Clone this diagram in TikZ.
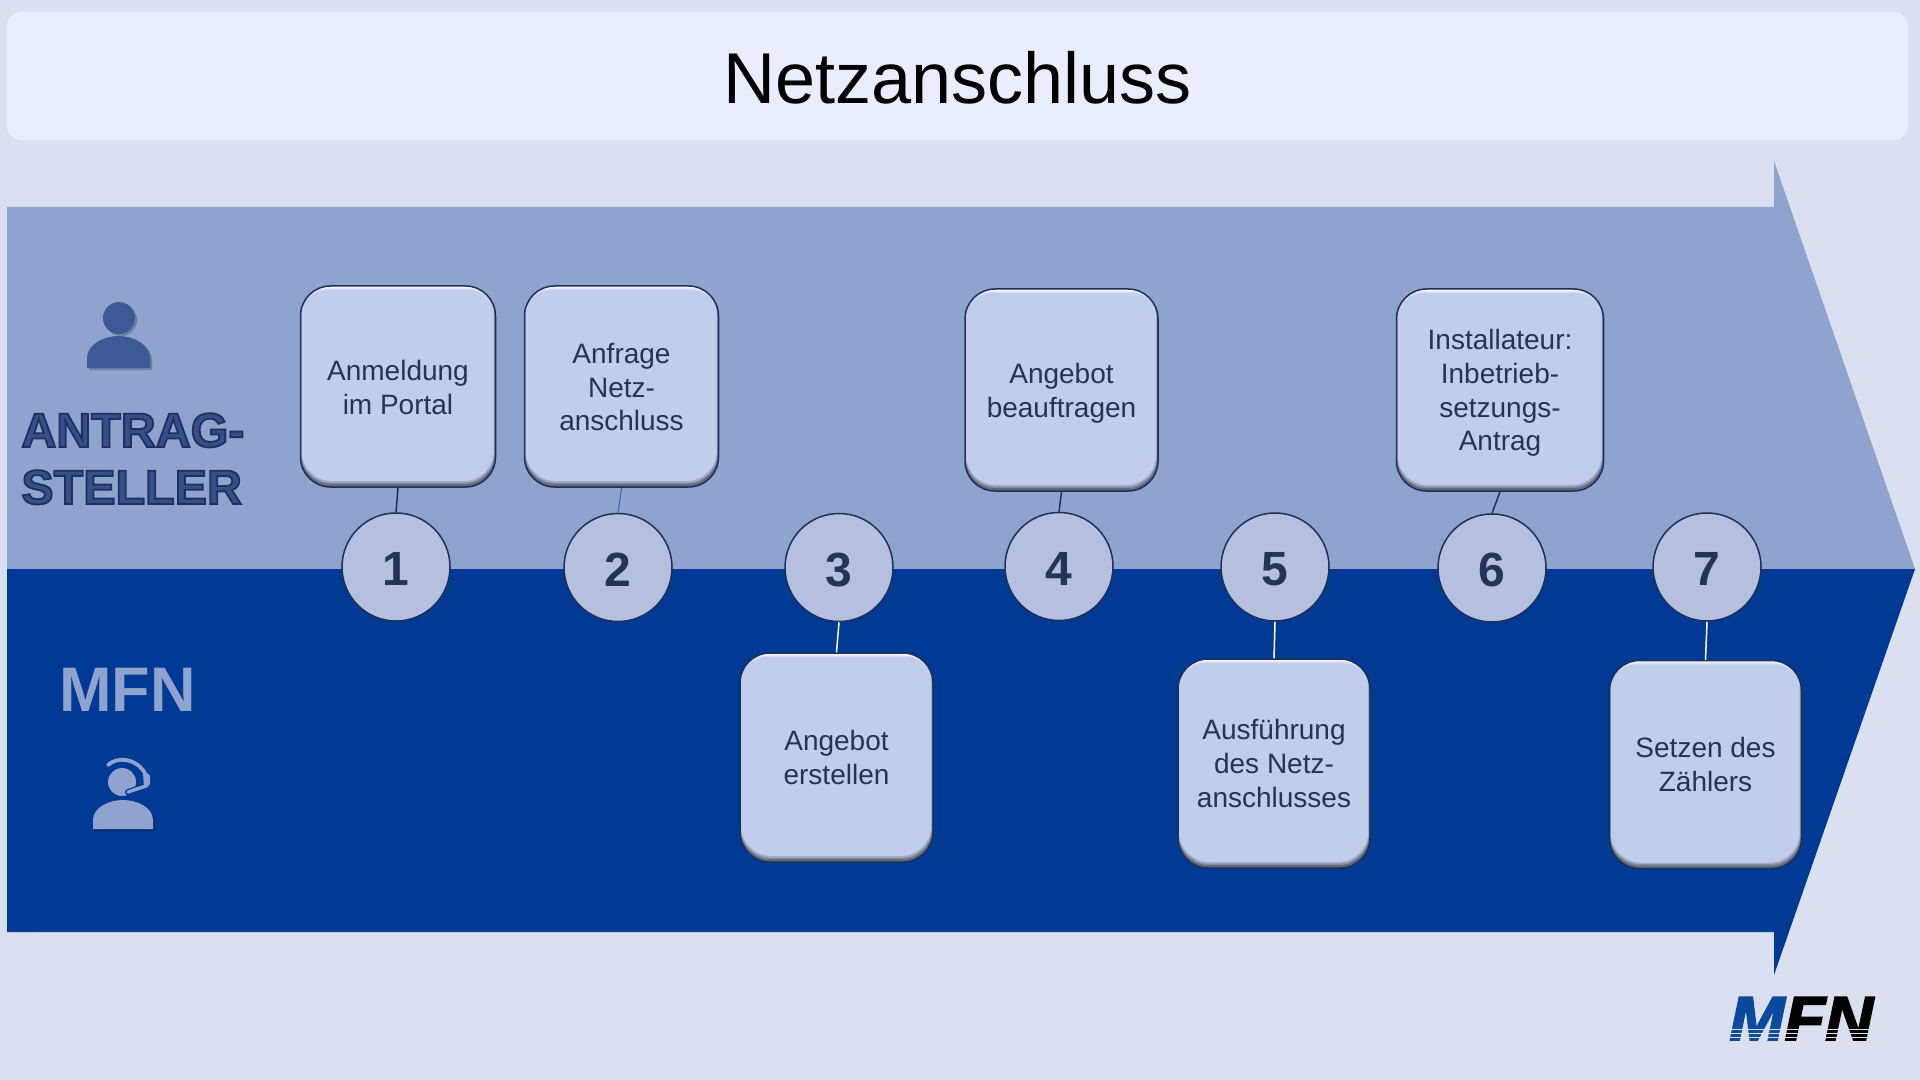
\documentclass[tikz,border=0pt]{standalone}
\usepackage{fontspec}
\usetikzlibrary{calc}
\setmainfont{Liberation Sans}
\newfontfamily\logofont[FakeStretch=1.07,BoldItalicFeatures={FakeBold=3}]{Liberation Sans}
\definecolor{bgcol}{HTML}{DAE0F0}
\definecolor{titlecol}{HTML}{E8EEFD}
\definecolor{bandup}{HTML}{8FA3CF}
\definecolor{banddown}{HTML}{003A94}
\definecolor{boxfill}{HTML}{C0CEEC}
\definecolor{circfill}{HTML}{B5C0DE}
\definecolor{edgecol}{HTML}{1F3058}
\definecolor{textcol}{HTML}{243358}
\definecolor{iconup}{HTML}{3C5A96}
\definecolor{labelup}{HTML}{34508C}
\definecolor{logoblue}{HTML}{0B4A9E}
\definecolor{lineup}{HTML}{4A68B0}
\definecolor{rimdark}{HTML}{2F3440}
\newcommand{\bevelrim}[6]{%
 \fill[#5,opacity=#6,even odd rule,rounded corners=0pt]
  ($(path picture bounding box.south west)+(-6pt,-6pt)$) rectangle ($(path picture bounding box.north east)+(6pt,6pt)$)
  [rounded corners=15pt]
  ($(path picture bounding box.south west)+(#1,#4)$) rectangle ($(path picture bounding box.north east)+(-#2,-#3)$);}
\newcommand{\outlined}[1]{\special{pdf:code 2 Tr 0.9 w 0.12 0.19 0.37 RG}#1\special{pdf:code 0 Tr}}
\newcommand{\firstline}[1]{\rule{0pt}{#1}}
\tikzset{
  x=0.5pt,y=-0.5pt,
  stepbox/.style={rounded corners=15pt,fill=boxfill,draw=edgecol,line width=.75pt,inner sep=0pt,
    align=center,text=textcol,font=\fontsize{14}{16.8}\selectfont,
    path picture={
      \bevelrim{.5pt}{.9pt}{-1pt}{3pt}{rimdark}{.2}
      \bevelrim{.3pt}{.6pt}{-1pt}{2.2pt}{rimdark}{.28}
      \bevelrim{.2pt}{.4pt}{-1pt}{1.4pt}{rimdark}{.38}
      \bevelrim{-1pt}{-1pt}{2pt}{-1pt}{white}{.3}
      \bevelrim{-1pt}{-1pt}{1.4pt}{-1pt}{white}{.45}
      \bevelrim{-1pt}{-1pt}{.9pt}{-1pt}{white}{.55}
    }},
  numcirc/.style={circle,fill=circfill,draw=edgecol,line width=.75pt,minimum size=54pt,inner sep=0pt,
    text=textcol,text height=18.5pt,text depth=0pt,font=\fontsize{24}{24}\selectfont\bfseries},
  darklink/.style={draw=edgecol,line width=.75pt},
  lightlink/.style={draw=white,line width=.75pt},
  faintlink/.style={draw=lineup,line width=.6pt},
  rolelabel/.style={inner sep=0pt,anchor=base west,font=\fontsize{24.2}{28.5}\selectfont\bfseries},
  iconshade/.style={fill=black,opacity=.22},
  iconsolid/.style={fill=iconup},
  headshade/.style={fill=black,opacity=.22},
  headsolid/.style={fill=bandup},
}
\begin{document}
\begin{tikzpicture}
\useasboundingbox (0,0) rectangle (1920,1080);
\fill[bgcol] (0,0) rectangle (1920,1080);
% title
\node[rounded corners=7pt,fill=titlecol,minimum width=950.5pt,minimum height=64pt,inner sep=0pt,
  text height=28pt,text depth=0pt,font=\fontsize{36}{36}\selectfont,text=black] (title) at (957.5,76) {Netzanschluss};
% arrow
\fill[bandup] (7,207) -- (1774,207) -- (1774,161) -- (1915,569) -- (7,569) -- cycle;
\fill[banddown] (7,569) -- (1915,569) -- (1774,975) -- (1774,932) -- (7,932) -- cycle;
% person icon
\foreach \dx/\sty in {2/iconshade,0/iconsolid}{
  \fill[\sty,shift={(\dx,\dx)}] (119,318) circle[radius=8pt];
  \fill[\sty,shift={(\dx,\dx)}] (87,368) -- (87,358) .. controls (87,345) and (103,336) .. (118.5,336) .. controls (134,336) and (150,345) .. (150,358) -- (150,368) -- cycle;
}
% role labels
\node[rolelabel,text=labelup,align=left] (antrag) at (21,504) {\outlined{ANTRAG-}\\\outlined{STELLER}};
\node[rolelabel,text=bandup,font=\fontsize{31.5}{31.5}\selectfont\bfseries] (mfnrole) at (59,711) {MFN};
% headset icon
\foreach \dx/\sty in {2/headshade,0/headsolid}{
  \fill[\sty,shift={(\dx,\dx)}] (93,829) -- (93,820) .. controls (93,808) and (108,800) .. (123,800) .. controls (138,800) and (153,808) .. (153,820) -- (153,829) -- cycle;
}
\fill[bandup] (122,782) circle[radius=7pt];
\draw[banddown,line width=3pt,line cap=round] (146,786) -- (128,792);
\draw[bandup,line width=1.9pt,line cap=round] (108,765) .. controls (116,757) and (135,757) .. (145,773);
\fill[bandup,rounded corners=1pt] (143,772) -- (150,774) -- (150,786) -- (144,788) -- cycle;
\draw[bandup,line width=1.7pt,line cap=round] (146,786) -- (128,792);
% steps
\node[numcirc] (c1) at (396,567) {1};
\node[numcirc] (c2) at (618,567.5) {2};
\node[numcirc] (c3) at (839,567.5) {3};
\node[numcirc] (c4) at (1059,566.5) {4};
\node[numcirc] (c5) at (1275,567) {5};
\node[numcirc] (c6) at (1492,568) {6};
\node[numcirc] (c7) at (1707,567) {7};
\node[stepbox,minimum width=97.5pt,minimum height=100.5pt] (b1) at (398,386.5) {\firstline{11.2pt}Anmeldung\\im Portal};
\node[stepbox,minimum width=97pt,minimum height=100.5pt] (b2) at (621.5,386.5) {\firstline{11pt}Anfrage\\Netz-\\anschluss};
\node[stepbox,minimum width=96.5pt,minimum height=104.5pt] (b3) at (836.5,757.5) {\firstline{10.2pt}Angebot\\erstellen};
\node[stepbox,minimum width=96.5pt,minimum height=101pt] (b4) at (1061.5,390) {\firstline{13.3pt}Angebot\\beauftragen};
\node[stepbox,minimum width=96pt,minimum height=104.5pt] (b5) at (1274,763.5) {Ausführung\\des Netz-\\anschlusses};
\node[stepbox,minimum width=103.5pt,minimum height=101pt] (b6) at (1500,390) {\firstline{13.3pt}Installateur:\\Inbetrieb-\\setzungs-\\Antrag};
\node[stepbox,minimum width=96pt,minimum height=104pt] (b7) at (1705.5,764.5) {Setzen des\\Zählers};
\draw[darklink] (b1.south) -- (c1.north);
\draw[faintlink] (b2.south) -- (c2.north);
\draw[lightlink] (c3.south) -- (b3.north);
\draw[darklink] (b4.south) -- (c4.north);
\draw[lightlink] (c5.south) -- (b5.north);
\draw[darklink] (b6.south) -- (c6.north);
\draw[lightlink] (c7.south) -- (b7.north);
% logo
\node[inner sep=0pt,anchor=base west,font=\fontsize{31}{31}\logofont\bfseries\itshape] (logo) at (1729,1040)
  {\textcolor{logoblue}{M}\textcolor{black}{FN}};
\foreach \yy in {1029.5,1033.5,1037.5}
  \fill[bgcol] (1722,\yy-.6) rectangle (1882,\yy+.6);
\end{tikzpicture}
\end{document}
